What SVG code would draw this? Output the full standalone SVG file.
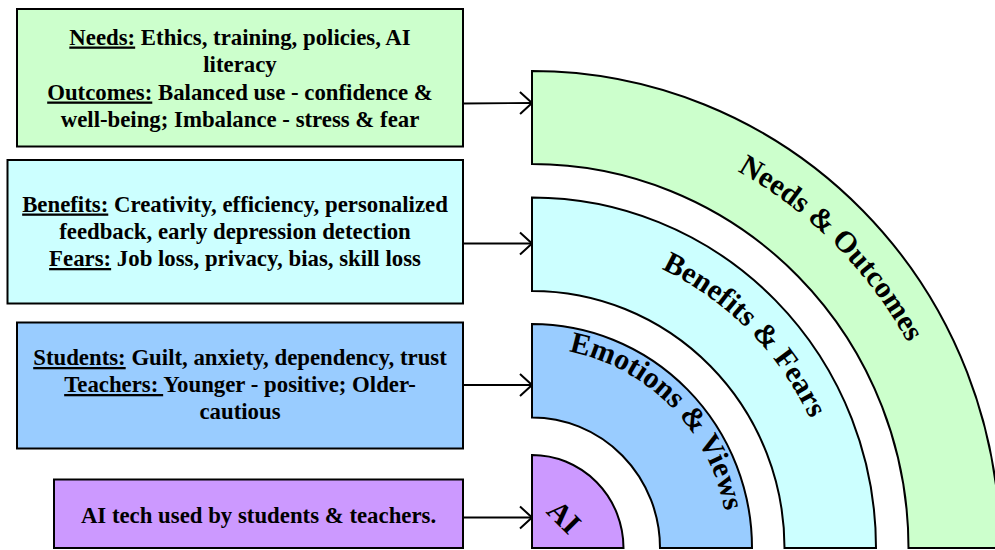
<svg xmlns="http://www.w3.org/2000/svg" width="995" height="550" viewBox="0 0 995 550">
<style>
.box{stroke:#000;stroke-width:2}
.ring{stroke:#000;stroke-width:2;stroke-linejoin:miter}
.t{font-family:"Liberation Serif","Times New Roman",serif;font-weight:bold;font-size:22.8px;fill:#000;text-anchor:middle}
.lbl{font-family:"Liberation Serif","Times New Roman",serif;font-weight:bold;font-size:30px;fill:#000}
.u{text-decoration:underline}
.conn{stroke:#000;stroke-width:1.8;fill:none}
</style>
<defs>
<marker id="arr" markerUnits="userSpaceOnUse" markerWidth="15" markerHeight="26" viewBox="0 0 15 26" refX="14" refY="13" orient="auto">
<path d="M2,2 L14,13 L2,24" fill="none" stroke="#000" stroke-width="2"/>
</marker>
<path id="pNeeds" d="M532,118 A430,438 0 0 1 962,548"/>
<path id="pBen" d="M532,240 A308,314 0 0 1 840,548"/>
<path id="pEmo" d="M532,348 A196,200 0 0 1 728,548"/>
</defs>

<g id="ring-needs">
<path class="ring" fill="#ccffcc" d="M532,71 A468,477 0 0 1 1000,548 L908.5,548 A376.5,384 0 0 0 532,164 Z"/>
<text class="lbl"><textPath href="#pNeeds" startOffset="50%" text-anchor="middle">Needs &amp; Outcomes</textPath></text>
</g>
<g id="ring-benefits">
<path class="ring" fill="#ccffff" d="M532,197.5 A344,350.5 0 0 1 876,548 L784.5,548 A252.5,257 0 0 0 532,291 Z"/>
<text class="lbl"><textPath href="#pBen" startOffset="50%" text-anchor="middle">Benefits &amp; Fears</textPath></text>
</g>
<g id="ring-emotions">
<path class="ring" fill="#99ccff" d="M532,324 A220,224 0 0 1 752,548 L660,548 A128,130.5 0 0 0 532,417.5 Z"/>
<text class="lbl"><textPath href="#pEmo" startOffset="50%" text-anchor="middle">Emotions &amp; Views</textPath></text>
</g>
<g id="ring-ai">
<path class="ring" fill="#cc99ff" d="M532,548 L532,455 A91.5,93 0 0 1 623.5,548 Z"/>
<text class="lbl" text-anchor="middle" transform="translate(564,517) rotate(45)" x="0" y="10">AI</text>
</g>

<g id="box-needs">
<rect class="box" x="17" y="9" width="446" height="137.5" fill="#ccffcc"/>
<text class="t" x="240" y="44.5"><tspan class="u">Needs:</tspan> Ethics, training, policies, AI</text>
<text class="t" x="240" y="72">literacy</text>
<text class="t" x="240" y="99.5"><tspan class="u">Outcomes:</tspan> Balanced use - confidence &amp;</text>
<text class="t" x="240" y="127">well-being; Imbalance - stress &amp; fear</text>
</g>
<g id="box-benefits">
<rect class="box" x="7.5" y="160" width="455.5" height="143.5" fill="#ccffff"/>
<text class="t" x="235" y="211.5"><tspan class="u">Benefits:</tspan> Creativity, efficiency, personalized</text>
<text class="t" x="235" y="238.5">feedback, early depression detection</text>
<text class="t" x="235" y="266"><tspan class="u">Fears:</tspan> Job loss, privacy, bias, skill loss</text>
</g>
<g id="box-emotions">
<rect class="box" x="17" y="322.5" width="446" height="126" fill="#99ccff"/>
<text class="t" x="240" y="365"><tspan class="u">Students:</tspan> Guilt, anxiety, dependency, trust</text>
<text class="t" x="240" y="392"><tspan class="u">Teachers: </tspan>Younger - positive; Older-</text>
<text class="t" x="240" y="419">cautious</text>
</g>
<g id="box-ai">
<rect class="box" x="54" y="479.5" width="409" height="68.5" fill="#cc99ff"/>
<text class="t" x="258.5" y="522.5">AI tech used by students &amp; teachers.</text>
</g>

<g id="connectors">
<line class="conn" x1="463" y1="103.5" x2="532" y2="103" marker-end="url(#arr)"/>
<line class="conn" x1="463" y1="243.5" x2="532" y2="243.5" marker-end="url(#arr)"/>
<line class="conn" x1="463" y1="385" x2="532" y2="385" marker-end="url(#arr)"/>
<line class="conn" x1="463" y1="517.5" x2="532" y2="517.5" marker-end="url(#arr)"/>
</g>
</svg>
